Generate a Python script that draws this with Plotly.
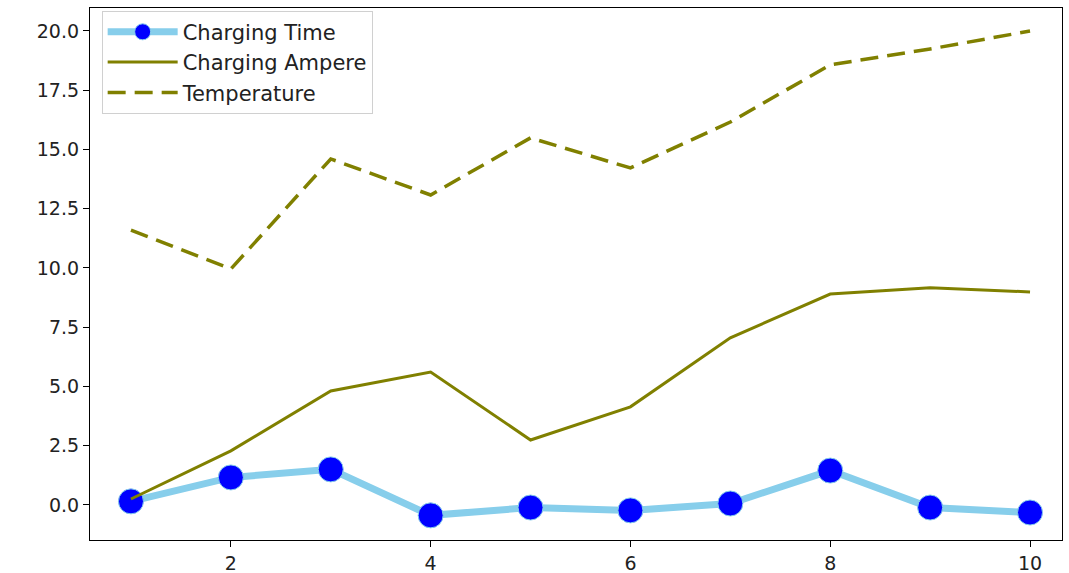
import plotly.graph_objects as go

x = [1, 2, 3, 4, 5, 6, 7, 8, 9, 10]
charging_time = [0.15, 1.16, 1.50, -0.44, -0.11, -0.23, 0.06, 1.45, -0.11, -0.32]
charging_ampere = [0.25, 2.28, 4.81, 5.61, 2.74, 4.14, 7.05, 8.90, 9.16, 8.99]
temperature = [11.6, 9.96, 14.6, 13.08, 15.49, 14.22, 16.16, 18.57, 19.24, 20.0]
y_ticks = [0.0, 2.5, 5.0, 7.5, 10.0, 12.5, 15.0, 17.5, 20.0]
x_ticks = [2, 4, 6, 8, 10]

fig = go.Figure()
fig.add_trace(go.Scatter(
    x=x, y=charging_time, name="Charging Time", mode="lines+markers",
    line=dict(color="#87CEEB", width=7),
    marker=dict(color="blue", size=25, line=dict(color="#87CEEB", width=1)),
))
fig.add_trace(go.Scatter(
    x=x, y=charging_ampere, name="Charging Ampere", mode="lines",
    line=dict(color="olive", width=3),
))
fig.add_trace(go.Scatter(
    x=x, y=temperature, name="Temperature", mode="lines",
    line=dict(color="olive", width=3.5, dash="18px,9px"),
))

axis_common = dict(
    showline=True, linecolor="black", linewidth=1.2, mirror=True,
    ticks="outside", ticklen=6, tickcolor="black", showgrid=False, zeroline=False,
    automargin=False,
    tickfont=dict(family="DejaVu Sans", size=19, color="#222"),
)
fig.update_xaxes(range=[0.59, 10.32], tickvals=x_ticks, **axis_common)
fig.update_yaxes(range=[-1.48, 20.97], tickvals=y_ticks,
                 ticktext=[f"{v:.1f}" for v in y_ticks], **axis_common)

fig.update_layout(
    width=1069, height=573,
    margin=dict(l=90, r=7, t=8, b=33),
    plot_bgcolor="white", paper_bgcolor="white",
    font=dict(family="DejaVu Sans", size=19, color="#222"),
    legend=dict(
        x=0.012, y=0.995, xanchor="left", yanchor="top",
        bgcolor="rgba(255,255,255,0.8)", bordercolor="#d0d0d0", borderwidth=1,
        font=dict(size=21), itemwidth=70, tracegroupgap=0,
    ),
)

fig.write_html(
    "out.html",
    config={"displayModeBar": False},
    post_script="document.body.style.margin='0px';document.body.style.overflow='hidden';",
)
